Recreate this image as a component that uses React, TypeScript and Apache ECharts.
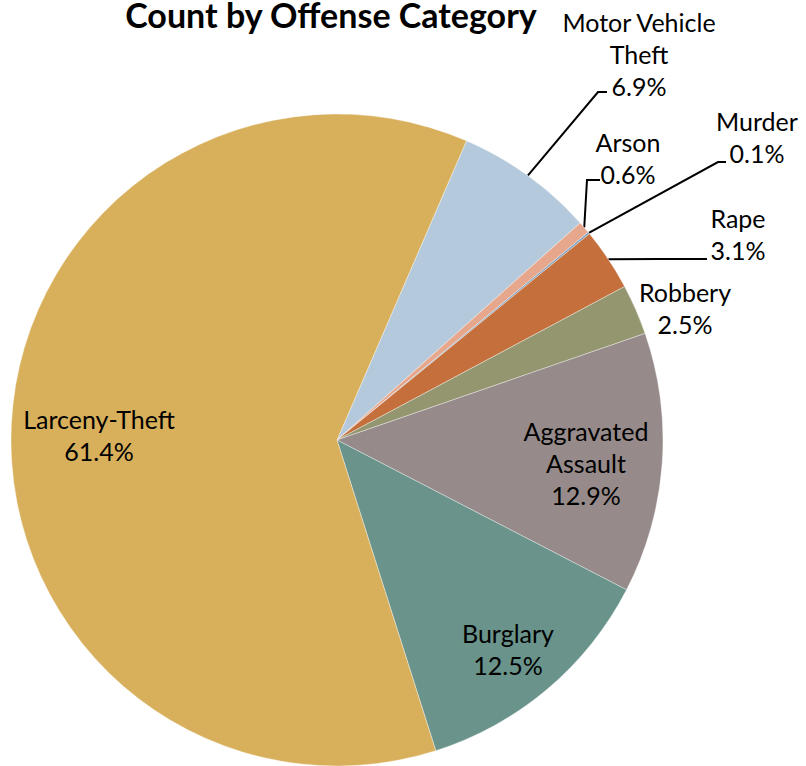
import React, { useEffect, useRef } from "react";
import * as echarts from "echarts";

const categories = [
  "Motor Vehicle Theft",
  "Arson",
  "Murder",
  "Rape",
  "Robbery",
  "Aggravated Assault",
  "Burglary",
  "Larceny-Theft",
];
const percents = [6.9, 0.6, 0.1, 3.1, 2.5, 12.9, 12.5, 61.4];
const colors = ["#B4CADC", "#E6A78C", "#7EA0BE", "#C5703C", "#94966F", "#968B8A", "#6A948B", "#D8B05C"];

// label placement (text block centre) and leader-line bend points
const labelPos: Record<string, { x: number; y: number; line?: number[][] }> = {
  "Motor Vehicle Theft": { x: 639, y: 54, line: [[598, 92], [607, 92]] },
  Arson: { x: 628, y: 158, line: [[587, 180], [600, 180]] },
  Murder: { x: 757, y: 137, line: [[718, 162], [726, 162]] },
  Rape: { x: 738, y: 234, line: [[660, 259], [707, 259]] },
  Robbery: { x: 685, y: 308 },
  "Aggravated Assault": { x: 586, y: 463 },
  Burglary: { x: 508, y: 649 },
  "Larceny-Theft": { x: 99, y: 435 },
};

const CX = 337;
const CY = 440;
const R = 326;
const START = 66.6;

export default function App() {
  const ref = useRef<HTMLDivElement>(null);
  useEffect(() => {
    if (!ref.current) return;
    const chart = echarts.init(ref.current, undefined, { renderer: "svg" });
    const total = percents.reduce((a, b) => a + b, 0);
    let acc = 0;
    const mids = percents.map((v) => {
      const a = START - ((acc + v / 2) / total) * 360;
      acc += v;
      return a;
    });
    chart.setOption({
      animation: false,
      title: {
        text: "Count by Offense Category",
        left: 331,
        textAlign: "center",
        top: 0,
        padding: 0,
        textStyle: { fontFamily: "Lato", fontWeight: "bold", fontSize: 34, lineHeight: 28, color: "#000" },
      },
      series: [
        {
          type: "pie",
          center: [CX, CY],
          radius: [0, R],
          startAngle: START,
          clockwise: true,
          percentPrecision: 1,
          avoidLabelOverlap: false,
          itemStyle: { borderColor: "rgba(255,255,255,0.6)", borderWidth: 0.6 },
          data: categories.map((name, i) => ({
            name,
            value: percents[i],
            itemStyle: { color: colors[i] },
            label: {
              position: labelPos[name].line || name === "Robbery" ? "outside" : "inside",
            },
            labelLine: { show: !!labelPos[name].line },
          })),
          label: {
            formatter: (p: any) => {
              const n: string = p.name;
              const idx = n.lastIndexOf(" ");
              const nm = idx > 0 ? n.slice(0, idx) + "\n" + n.slice(idx + 1) : n;
              return nm + "\n" + p.percent.toFixed(1) + "%";
            },
            fontFamily: "Lato",
            fontSize: 25,
            lineHeight: 32,
            color: "#000",
            align: "center",
          },
          labelLine: { lineStyle: { color: "#000", width: 2 }, length: 10, length2: 10 },
          labelLayout: (params: any) => {
            const name = categories[params.dataIndex];
            const lp = labelPos[name];
            const out: any = { x: lp.x, y: lp.y, align: "center", verticalAlign: "middle" };
            if (lp.line) {
              const a = (mids[params.dataIndex] * Math.PI) / 180;
              const p0 = [CX + R * Math.cos(a), CY - R * Math.sin(a)];
              out.labelLinePoints = [p0, lp.line[0], lp.line[1]];
            }
            return out;
          },
        },
      ],
    });
    return () => chart.dispose();
  }, []);
  return (
    <div
      ref={ref}
      style={{ position: "absolute", left: 0, top: 0, width: 806, height: 766, background: "#fff" }}
    />
  );
}
